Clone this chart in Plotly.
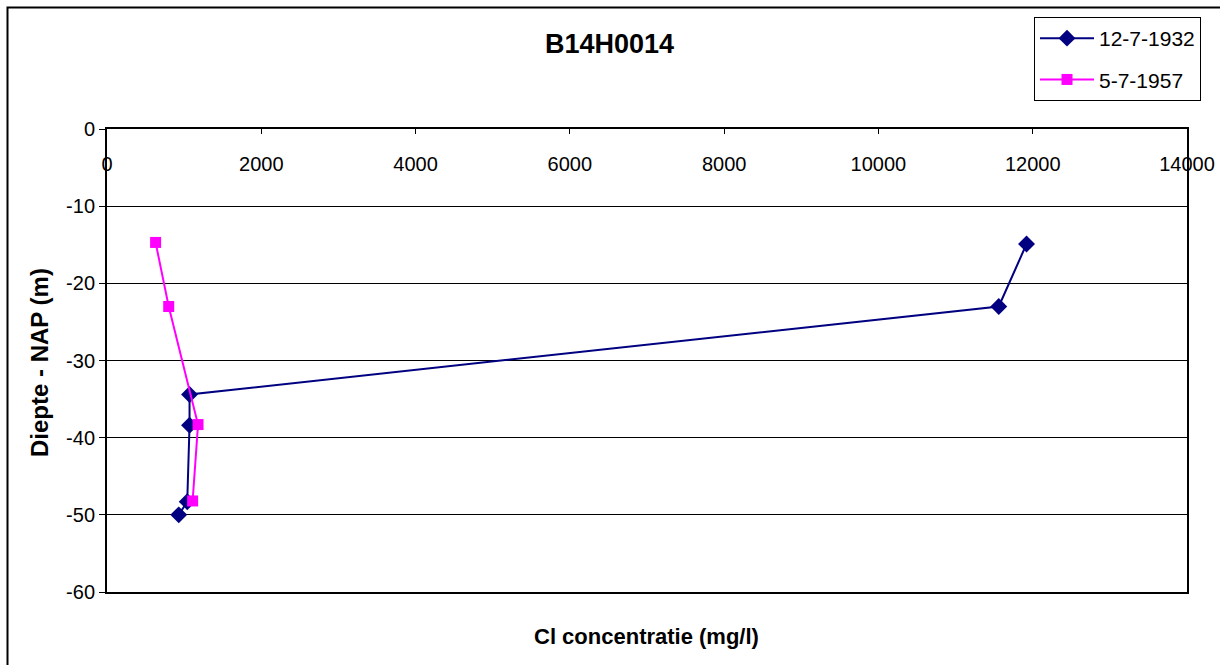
import plotly.graph_objects as go

# Chloride profile of well B14H0014
series_1932_name = "12-7-1932"
cl_1932 = [11920, 11560, 1070, 1070, 1040, 930]
depth_1932 = [-14.9, -23.0, -34.4, -38.4, -48.3, -50.0]

series_1957_name = "5-7-1957"
cl_1957 = [630, 800, 1180, 1110]
depth_1957 = [-14.7, -23.0, -38.3, -48.2]

x_ticks = [0, 2000, 4000, 6000, 8000, 10000, 12000, 14000]
x_ticktext = ["0", "2000", "4000", "6000", "8000", "10000", "12000", "14000"]
y_ticks = [0, -10, -20, -30, -40, -50, -60]
y_ticktext = ["0", "-10", "-20", "-30", "-40", "-50", "-60"]

FONT = "Liberation Sans, Arial, sans-serif"

fig = go.Figure()
# empty trace so the label axis (x2) gets drawn
fig.add_trace(go.Scatter(
    x=[None], y=[None], xaxis="x2", yaxis="y",
    showlegend=False, hoverinfo="skip", mode="markers",
))
fig.add_trace(go.Scatter(
    x=cl_1932, y=depth_1932, name=series_1932_name, mode="lines+markers",
    line=dict(color="#000080", width=2),
    marker=dict(symbol="diamond", size=13, color="#000080"),
    legendgroup="a",
))
fig.add_trace(go.Scatter(
    x=cl_1957, y=depth_1957, name=series_1957_name, mode="lines+markers",
    line=dict(color="#FF00FF", width=2),
    marker=dict(symbol="square", size=11, color="#FF00FF"),
    legendgroup="b",
))

fig.update_layout(
    width=1220, height=665,
    margin=dict(l=107, r=33, t=129, b=73, autoexpand=False),
    paper_bgcolor="white", plot_bgcolor="white",
    font=dict(family=FONT, size=20, color="black"),
    showlegend=True,
    legend=dict(
        x=(1034 - 107) / 1080, y=(592 - 17) / 463,
        xanchor="left", yanchor="top",
        bordercolor="black", borderwidth=1, bgcolor="white",
        font=dict(size=21), tracegroupgap=11, itemwidth=54,
    ),
    # value axis crosses at depth 0: line on top, ticks pointing down
    xaxis=dict(
        range=[0, 14000], tickvals=x_ticks, side="top",
        ticks="inside", ticklen=5, tickcolor="black",
        showticklabels=False,
        showgrid=False, zeroline=False,
        showline=True, linecolor="black", linewidth=2, mirror=True,
    ),
    # tick labels of the value axis, hanging just under the zero line
    xaxis2=dict(
        range=[0, 14000], overlaying="x", anchor="free",
        position=(592 - 150) / 463, side="bottom", automargin=False,
        tickvals=x_ticks, ticktext=x_ticktext, ticks="",
        showgrid=False, zeroline=False, showline=False,
        tickfont=dict(size=20),
    ),
    yaxis=dict(
        range=[-60, 0], tickvals=y_ticks, ticktext=y_ticktext,
        ticks="outside", ticklen=6, tickcolor="black",
        showgrid=True, gridcolor="black", gridwidth=1, zeroline=False,
        showline=True, linecolor="black", linewidth=2, mirror=True,
        tickfont=dict(size=20),
    ),
    annotations=[
        dict(text="<b>B14H0014</b>", xref="paper", yref="paper",
             x=(609 - 107) / 1080, y=(592 - 44) / 463,
             xanchor="center", yanchor="middle", showarrow=False,
             font=dict(size=27)),
        dict(text="<b>Cl concentratie (mg/l)</b>", xref="paper", yref="paper",
             x=(646 - 107) / 1080, y=(592 - 636) / 463,
             xanchor="center", yanchor="middle", showarrow=False,
             font=dict(size=22)),
        dict(text="<b>Diepte - NAP (m)</b>", xref="paper", yref="paper",
             x=(39 - 107) / 1080, y=(592 - 363) / 463, textangle=-90,
             xanchor="center", yanchor="middle", showarrow=False,
             font=dict(size=24)),
    ],
    shapes=[
        # outer chart frame
        dict(type="rect", xref="paper", yref="paper",
             x0=(7.5 - 107) / 1080, x1=(1240 - 107) / 1080,
             y0=(592 - 700) / 463, y1=(592 - 7.5) / 463,
             line=dict(color="black", width=2), layer="below"),
    ],
)

fig.write_html("out.html")
